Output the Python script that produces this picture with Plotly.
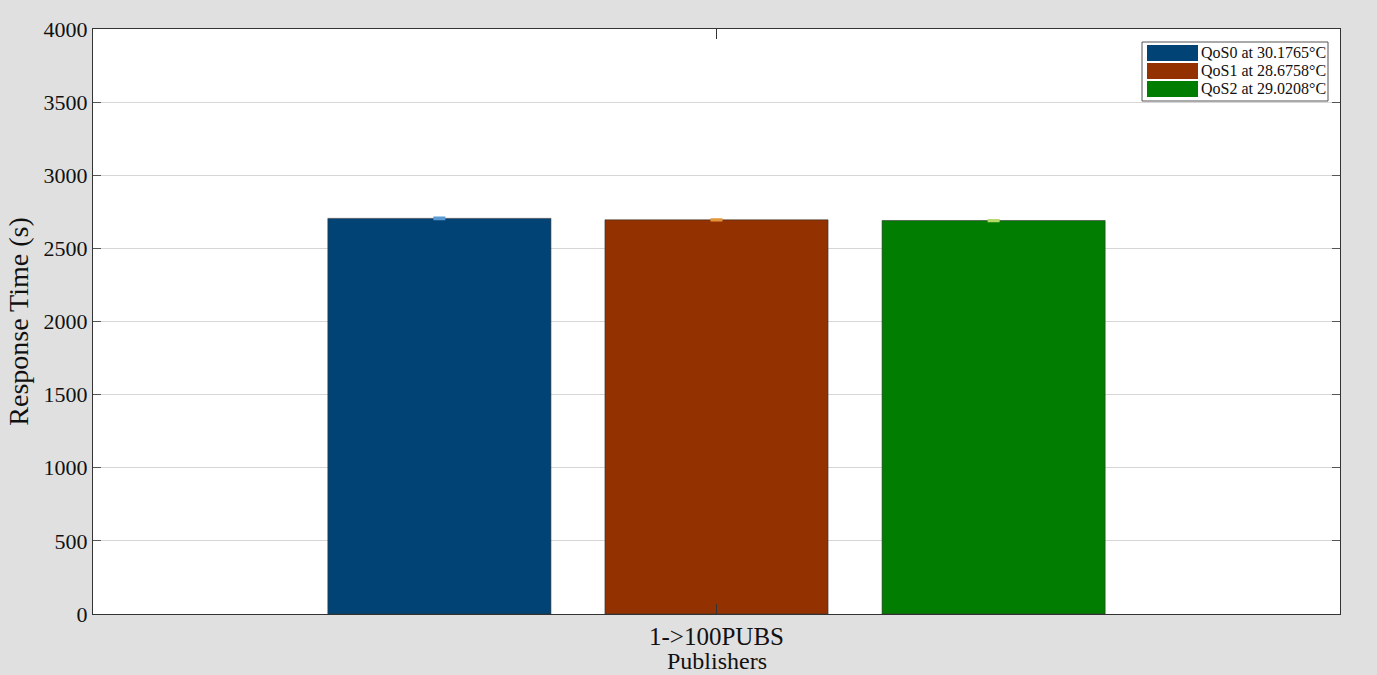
import plotly.graph_objects as go

# Response time per QoS level for the 1->100 publishers run
categories = ["1->100PUBS"]
series_names = ["QoS0 at 30.1765°C", "QoS1 at 28.6758°C", "QoS2 at 29.0208°C"]
response_times = [[2705], [2695], [2690]]
errors = [[6], [5], [4]]

bar_colors = ["#014375", "#943100", "#017E01"]
err_colors = ["#5b9bd5", "#e3953a", "#b5d96a"]
serif = "Liberation Serif, Times New Roman, serif"

fig = go.Figure()
for name, vals, err, col, ecol in zip(series_names, response_times, errors, bar_colors, err_colors):
    fig.add_trace(go.Bar(
        x=categories, y=vals, name=name,
        marker=dict(color=col, line=dict(color="#333333", width=0.6)),
        error_y=dict(type="data", array=err, color=ecol, thickness=2, width=6),
        showlegend=False,
    ))

fig.update_layout(
    width=1377, height=675,
    paper_bgcolor="#e0e0e0", plot_bgcolor="white",
    margin=dict(l=93, r=37, t=29, b=61),
    barmode="group", bargap=0.0, bargroupgap=0.195,
    font=dict(family=serif, size=22, color="#111111"),
)
fig.update_xaxes(
    range=[-0.75, 0.75], showgrid=False, showline=True, linecolor="#333333",
    linewidth=1, mirror="ticks", ticks="inside", ticklen=10, tickcolor="#333333",
    tickfont=dict(size=25), automargin=False,
)
fig.update_yaxes(
    range=[0, 4000], dtick=500, showgrid=True, gridcolor="#d6d6d6", gridwidth=1,
    showline=True, linecolor="#333333", linewidth=1, mirror="ticks",
    ticks="inside", ticklen=8, tickcolor="#555555",
    title=dict(text="Response Time (s)", font=dict(size=28), standoff=6),
    tickfont=dict(size=22), zeroline=False, automargin=False,
)

# Pixel -> paper coordinate helpers for the plot area
pw = 1377 - 93 - 37
ph = 675 - 29 - 61
def px(x):
    return (x - 93) / pw
def py(y):
    return 1 - (y - 29) / ph

# x-axis title placed just below the category label
fig.add_annotation(xref="paper", yref="paper", x=0.5, y=py(661),
                   text="Publishers", showarrow=False, xanchor="center", yanchor="middle",
                   font=dict(family=serif, size=24, color="#111111"))

# Legend box
fig.add_shape(type="rect", xref="paper", yref="paper",
              x0=px(1142), x1=px(1328), y0=py(101), y1=py(42),
              line=dict(color="#555555", width=1), fillcolor="white")
row_tops = [45, 63, 81]
for name, col, top in zip(series_names, bar_colors, row_tops):
    fig.add_shape(type="rect", xref="paper", yref="paper",
                  x0=px(1147), x1=px(1198), y0=py(top + 16), y1=py(top),
                  line=dict(width=0), fillcolor=col)
    fig.add_annotation(xref="paper", yref="paper", x=px(1199), y=py(top + 8),
                       text=name, showarrow=False, xanchor="left", yanchor="middle",
                       font=dict(family=serif, size=16, color="#111111"))

fig.write_html("out.html")
